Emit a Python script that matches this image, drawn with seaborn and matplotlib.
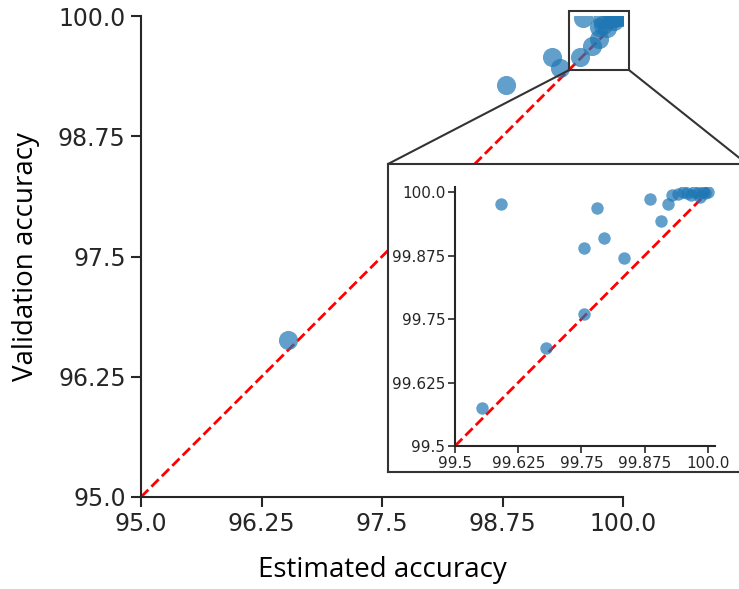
import numpy as np
import pandas as pd
import matplotlib
matplotlib.use("Agg")
import matplotlib.pyplot as plt
from matplotlib.patches import Rectangle, ConnectionPatch
import seaborn as sns

# ---- data ----
estimated = [96.53, 98.79, 99.265, 99.351,
             99.553, 99.590, 99.680, 99.755, 99.756, 99.780, 99.794, 99.834,
             99.885, 99.908, 99.922, 99.929, 99.941, 99.951, 99.958, 99.966,
             99.972, 99.980, 99.985, 99.990, 99.995, 100.0]
validation = [96.63, 99.28, 99.577, 99.455,
              99.574, 99.977, 99.692, 99.759, 99.890, 99.968, 99.909, 99.871,
              99.986, 99.943, 99.977, 99.994, 99.997, 100.0, 99.999, 99.995,
              100.0, 99.998, 99.990, 100.0, 99.999, 100.0]
main_ticks = [95.0, 96.25, 97.5, 98.75, 100.0]
main_ticklabels = ["95.0", "96.25", "97.5", "98.75", "100.0"]
inset_ticks = [99.5, 99.625, 99.75, 99.875, 100.0]
inset_ticklabels = ["99.5", "99.625", "99.75", "99.875", "100.0"]
diag_main = [95.0, 100.0]
diag_inset = [99.5, 100.0]

df = pd.DataFrame({"Estimated": estimated, "Validation": validation})

sns.set_theme(style="ticks")
plt.rcParams["font.family"] = ["DejaVu Sans"]
dark = "0.15"

fig = plt.figure(figsize=(7.39, 5.89), dpi=100)

# ---- main axes ----
ax = fig.add_axes([141/739, 92/589, 482/739, 481/589])
sns.scatterplot(data=df, x="Estimated", y="Validation", ax=ax, s=190,
                alpha=0.7, linewidth=0, color="tab:blue", zorder=3)
ax.plot(diag_main, diag_main, color="red", ls="--", lw=2, zorder=2)
ax.set_xlim(95, 100)
ax.set_ylim(95, 100)
ax.set_xticks(main_ticks)
ax.set_xticklabels(main_ticklabels, family="DejaVu Sans")
ax.set_yticks(main_ticks)
ax.set_yticklabels(main_ticklabels, family="DejaVu Sans")
ax.tick_params(labelsize=17, length=7, width=1.5, colors=dark, pad=4)
for s in ["left", "bottom"]:
    ax.spines[s].set_linewidth(1.5)
    ax.spines[s].set_color(dark)
sns.despine(ax=ax)
ax.set_xlabel("Estimated accuracy", family="Open Sans", fontsize=20, color="black", labelpad=14)
ax.set_ylabel("Validation accuracy", family="Open Sans", fontsize=20, color="black", labelpad=13)

# zoom box
rect = Rectangle((99.445, 99.44), 0.615, 0.61, fill=False, edgecolor="0.2",
                 lw=1.5, clip_on=False, zorder=5)
ax.add_patch(rect)

# ---- inset frame ----
frame = fig.add_axes([388/739, 117/589, 359/739, 308/589], zorder=10)
frame.set_xticks([])
frame.set_yticks([])
frame.set_facecolor("white")
for s in frame.spines.values():
    s.set_linewidth(1.5)
    s.set_color("0.2")
    s.set_visible(True)

# connectors
for (xa, xb) in [((99.445, 99.44), (0, 1)), ((100.06, 99.44), (1, 1))]:
    con = ConnectionPatch(xyA=xa, coordsA=ax.transData, xyB=xb, coordsB=frame.transAxes,
                          color="0.2", lw=1.5, zorder=4)
    fig.add_artist(con)

# ---- inset axes ----
ins = fig.add_axes([455/739, 143/589, 260/739, 259/589], zorder=11)
sns.scatterplot(data=df, x="Estimated", y="Validation", ax=ins, s=80,
                alpha=0.7, linewidth=0, color="tab:blue", zorder=3)
ins.plot(diag_inset, diag_inset, color="red", ls="--", lw=2, zorder=2)
ins.set_xlim(99.5, 100.014)
ins.set_ylim(99.5, 100.01)
ins.set_xticks(inset_ticks)
ins.set_xticklabels(inset_ticklabels, family="DejaVu Sans")
ins.set_yticks(inset_ticks)
ins.set_yticklabels(inset_ticklabels, family="DejaVu Sans")
ins.tick_params(labelsize=11, length=5, width=1.2, colors=dark, pad=2)
for s in ["left", "bottom"]:
    ins.spines[s].set_linewidth(1.5)
    ins.spines[s].set_color(dark)
sns.despine(ax=ins)
ins.set_xlabel("")
ins.set_ylabel("")

fig.savefig("out.png", dpi=100)
